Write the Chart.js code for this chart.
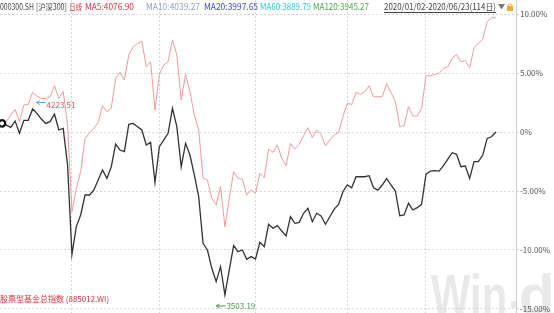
<!DOCTYPE html>
<html><head><meta charset="utf-8">
<script src="https://cdn.jsdelivr.net/npm/chart.js@4/dist/chart.umd.min.js"></script>
<style>html,body{margin:0;padding:0;background:#fff;overflow:hidden}</style>
</head><body>
<canvas id="c" width="554" height="313"></canvas>
<script>
// ---- data ----
const monthDays = [
  ['2020-01', [2,3,6,7,8,9,10,13,14,15,16,17,20,21,22,23]],
  ['2020-02', [3,4,5,6,7,10,11,12,13,14,17,18,19,20,21,24,25,26,27,28]],
  ['2020-03', [2,3,4,5,6,9,10,11,12,13,16,17,18,19,20,23,24,25,26,27,30,31]],
  ['2020-04', [1,2,3,7,8,9,10,13,14,15,16,17,20,21,22,23,24,27,28,29,30]],
  ['2020-05', [6,7,8,11,12,13,14,15,18,19,20,21,22,25,26,27,28,29]],
  ['2020-06', [1,2,3,4,5,8,9,10,11,12,15,16,17,18,19,22,23]]
];
const categories = monthDays.flatMap(([m, ds]) => ds.map(d => m + '-' + String(d).padStart(2, '0')));
const monthStartDates = ['2020-02-03', '2020-03-02', '2020-04-01', '2020-05-06', '2020-06-01'];

// 沪深300 (%)
const csi300Pct = [
  0.73,0.59,0.40,0.93,-0.11,0.99,0.99,1.95,1.58,1.10,0.73,0.88,1.53,0.17,0.31,-2.80,
  -10.37,-8.02,-7.03,-5.34,-5.34,-4.92,-4.07,-3.22,-3.93,-2.94,-1.02,-1.53,-1.67,0.65,0.73,0.45,0.17,-1.10,-0.88,-4.29,
  -1.24,-0.68,-0.11,2.01,0.45,-2.94,-0.96,-1.95,-3.64,-5.48,-9.44,-10.00,-11.55,-12.68,-11.41,-13.81,-11.69,-9.63,-10.14,-10.00,-10.79,-10.56,
  -10.76,-9.35,-9.72,-7.82,-8.16,-7.94,-8.39,-8.81,-7.18,-7.74,-7.66,-6.89,-6.47,-7.60,-6.89,-7.12,-7.82,-7.18,-6.53,-6.13,-5.06,
  -4.49,-4.72,-3.79,-3.79,-3.79,-3.70,-4.72,-4.92,-4.49,-3.93,-4.49,-5.00,-7.09,-7.03,-6.04,-6.61,-6.41,-6.13,
  -3.59,-3.31,-3.28,-3.31,-2.85,-2.29,-1.75,-1.89,-2.94,-2.88,-3.93,-2.51,-2.51,-1.95,-0.54,-0.40,0.00
];
// 股票型基金总指数 (%)
const fundPct = [
  0.59,0.88,1.44,1.92,0.88,2.29,2.34,3.36,3.05,2.85,2.85,2.99,3.93,2.85,3.42,0.59,
  -6.75,-4.77,-3.36,-0.54,-0.11,0.31,0.82,2.23,1.72,2.01,4.55,5.06,4.41,6.52,7.23,7.51,7.71,5.54,5.96,1.86,
  4.89,5.68,5.96,7.80,6.53,2.71,4.89,3.42,1.44,0.17,-3.93,-4.07,-5.62,-6.19,-4.63,-8.02,-5.62,-3.36,-3.93,-3.98,-5.34,-4.92,
  -5.20,-3.50,-3.87,-1.44,-1.72,-1.10,-2.23,-2.85,-0.96,-1.44,-1.05,-0.31,0.37,-0.48,0.17,-0.20,-1.16,-0.68,-0.25,-0.03,1.30,
  2.43,2.34,3.36,3.19,3.42,3.92,2.99,2.99,2.99,4.12,3.36,2.57,0.45,0.54,2.15,1.36,1.36,2.01,
  4.77,4.77,4.89,4.97,5.40,5.54,6.24,6.58,5.96,6.05,5.45,7.15,7.51,7.88,9.35,9.69,9.69
];
const yTickValues = [-15, -10, -5, 0, 5, 10];
const yTickLabels = ['-15.00%', '-10.00%', '-5.00%', '0%', '5.00%', '10.00%'];

const headerItems = [
  ['000300.SH', '#444444'],
  ['[沪深300]', '#444444'],
  ['日线', '#e8303a'],
  ['MA5:4076.90', '#e8303a'],
  ['MA10:4039.27', '#86a6cc'],
  ['MA20:3997.65', '#3048e0'],
  ['MA60:3889.79', '#2fc4d6'],
  ['MA120:3945.27', '#3fae3f']
];
const rangeLabel = '2020/01/02-2020/06/23(114日)';
const fundName = '股票型基金总指数 (885012.WI)';
const maxLabel = '4223.51';
const maxLabelDate = '2020-01-13';
const minLabel = '3503.19';
const minLabelDate = '2020-03-23';

// ---- layout (presentation only) ----
const headerX = [0, 36, 69, 85, 146, 204, 260, 313];
const headerW = [34, 31, 13, 49, 54, 54, 51, 56];
const FONT = '"Noto Sans CJK SC", "Noto Sans", sans-serif';

const monthStartIdx = monthStartDates.map(d => categories.indexOf(d));

const overlay = {
  id: 'overlay',
  beforeDraw(chart) {
    const ctx = chart.ctx;
    ctx.save();
    ctx.fillStyle = '#ffffff';
    ctx.fillRect(0, 0, chart.width, chart.height);
    ctx.fillStyle = '#e9e9e9';
    ctx.font = 'bold 58px "Liberation Sans", Arial, sans-serif';
    ctx.textBaseline = 'alphabetic';
    ctx.save();
    ctx.translate(431, 315);
    ctx.scale(0.72, 1);
    ctx.fillText('Win', 0, 0);
    ctx.restore();
    ctx.fillRect(511, 301, 6, 7);
    ctx.fillText('d', 519, 315);
    ctx.restore();
  },
  afterDraw(chart) {
    const ctx = chart.ctx;
    const xs = chart.scales.x, ys = chart.scales.y;
    ctx.save();
    ctx.font = '8.5px ' + FONT;
    ctx.textBaseline = 'middle';
    headerItems.forEach(([t, c], i) => {
      ctx.fillStyle = c;
      ctx.fillText(t, headerX[i], 7, headerW[i]);
    });
    // range label, right aligned before the arrow
    const rEnd = 496;
    const rW = Math.min(ctx.measureText(rangeLabel).width, 112);
    ctx.fillStyle = '#444';
    ctx.fillText(rangeLabel, rEnd - rW, 7, rW);
    ctx.fillRect(rEnd - rW, 12, rW, 1);
    // dropdown triangle
    ctx.fillStyle = '#7a7a7a';
    ctx.beginPath(); ctx.moveTo(498, 4); ctx.lineTo(505, 4); ctx.lineTo(501.5, 9.5); ctx.closePath(); ctx.fill();
    // lock icon
    ctx.fillStyle = '#f0a82a';
    ctx.fillRect(507, 6, 6, 5);
    ctx.strokeStyle = '#f0a82a'; ctx.lineWidth = 1;
    ctx.beginPath(); ctx.arc(510, 6, 2, Math.PI, 0); ctx.stroke();

    // fund name
    ctx.font = '8px ' + FONT;
    ctx.fillStyle = '#e8303a';
    ctx.fillText(fundName, 0, 299);

    // max / min annotations anchored to the data
    const iMax = categories.indexOf(maxLabelDate), iMin = categories.indexOf(minLabelDate);
    const mx = xs.getPixelForValue(iMax), my = ys.getPixelForValue(csi300Pct[iMax]);
    const ax = mx + 4, ay = my - 6.5;
    ctx.strokeStyle = '#6aa0d8'; ctx.lineWidth = 1;
    ctx.beginPath(); ctx.moveTo(ax, ay); ctx.lineTo(ax + 9, ay);
    ctx.moveTo(ax + 3, ay - 2); ctx.lineTo(ax, ay); ctx.lineTo(ax + 3, ay + 2); ctx.stroke();
    ctx.fillStyle = '#e8505a';
    ctx.fillText(maxLabel, ax + 10, ay + 2.5);

    const nx = xs.getPixelForValue(iMin), ny = ys.getPixelForValue(csi300Pct[iMin]);
    const bx = nx - 8.5, by = ny + 11;
    ctx.strokeStyle = '#3c9c3c';
    ctx.beginPath(); ctx.moveTo(bx, by); ctx.lineTo(bx + 9, by);
    ctx.moveTo(bx + 3, by - 2); ctx.lineTo(bx, by); ctx.lineTo(bx + 3, by + 2); ctx.stroke();
    ctx.fillStyle = '#3c9c3c';
    ctx.fillText(minLabel, bx + 10, by);

    // right axis line
    ctx.fillStyle = '#cfcfcf';
    ctx.fillRect(Math.round(chart.chartArea.right), 0, 1, chart.height);
    ctx.restore();
  }
};

new Chart(document.getElementById('c'), {
  type: 'line',
  data: {
    datasets: [
      {
        label: '沪深300',
        data: csi300Pct.map((v, i) => ({ x: i, y: v })),
        borderColor: '#333333',
        borderWidth: 1.3,
        pointRadius: ctx => ctx.dataIndex === 0 ? 3.2 : 0,
        pointHoverRadius: 0,
        pointBorderWidth: 2.3,
        pointBorderColor: '#111111',
        pointBackgroundColor: '#ffffff',
        tension: 0,
        clip: false
      },
      {
        label: fundName,
        data: fundPct.map((v, i) => ({ x: i, y: v })),
        borderColor: '#f49a9a',
        borderWidth: 1,
        pointRadius: 0,
        pointHoverRadius: 0,
        tension: 0,
        clip: false
      }
    ]
  },
  options: {
    responsive: false,
    animation: false,
    devicePixelRatio: 1,
    layout: { padding: 0, autoPadding: false },
    plugins: { legend: { display: false }, tooltip: { enabled: false } },
    scales: {
      x: {
        type: 'linear',
        min: -0.46,
        max: 117.6,
        afterBuildTicks: s => { s.ticks = monthStartIdx.map(v => ({ value: v })); },
        afterFit: s => { s.height = 0; s.paddingLeft = 0; s.paddingRight = 0; },
        ticks: { display: false },
        grid: { color: '#d6d6d6', lineWidth: 1, drawTicks: false },
        border: { display: false, dash: [2, 2] }
      },
      y: {
        type: 'linear',
        position: 'right',
        min: -15.34,
        max: 11.19,
        afterBuildTicks: s => { s.ticks = yTickValues.map(v => ({ value: v })); },
        afterFit: s => { s.width = 38; s.paddingTop = 0; s.paddingBottom = 0; },
        ticks: {
          font: { size: 8, family: FONT },
          color: '#555555',
          padding: 1,
          callback: v => yTickLabels[yTickValues.indexOf(v)]
        },
        grid: { color: '#d6d6d6', lineWidth: 1, tickLength: 3 },
        border: { display: false, dash: [2, 2] }
      }
    }
  },
  plugins: [overlay]
});
</script>
</body></html>
